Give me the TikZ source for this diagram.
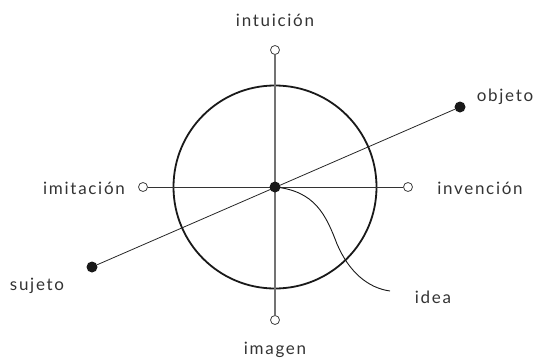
\documentclass[tikz,border=0pt]{standalone}
\usepackage{fontspec}
\setmainfont{Lato}[LetterSpace=10]
\begin{document}
\begin{tikzpicture}[x=1pt,y=-1pt,
  lbl/.style={font=\fontsize{17}{19}\selectfont, text=black!80, inner sep=0pt},
  opendot/.style={circle, draw=black!75, fill=white, line width=0.8pt, minimum size=9pt, inner sep=0pt},
  fulldot/.style={circle, fill=black!90, minimum size=11pt, inner sep=0pt},
  axisv/.style={draw=black!55, line width=1.1pt},
  axish/.style={draw=black!80, line width=0.8pt},
  diag/.style={draw=black!85, line width=0.8pt}]
\useasboundingbox (0,0) rectangle (543,362);
% circle
\node[circle, draw=black!90, line width=1.8pt, minimum size=203pt, inner sep=0pt] (ring) at (275,187) {};
% dots
\node[opendot] (top) at (275,50) {};
\node[opendot] (bot) at (275,320) {};
\node[opendot] (left) at (143,187) {};
\node[opendot] (right) at (408,187) {};
\node[fulldot] (obj) at (460,107) {};
\node[fulldot] (suj) at (92,267) {};
\coordinate (c) at (275,187);
\coordinate (ideaend) at (390,291);
% lines
\draw[axisv] (top) -- (bot);
\draw[axish] (left) -- (right);
\draw[diag] (suj) -- (obj);
\draw[black!90, line width=0.9pt] (c) .. controls (315,191) and (326,215) .. (337,244) .. controls (349,272) and (368,288) .. (ideaend);
\node[fulldot] (center) at (c) {};
% labels
\node[lbl] (lint) at (275,20) {intuición};
\node[lbl] (limg) at (275,350) {imagen};
\node[lbl] (limi) at (84,188) {imitación};
\node[lbl] (linv) at (480,188) {invención};
\node[lbl] (lobj) at (505,97) {objeto};
\node[lbl] (lsuj) at (37,286) {sujeto};
\node[lbl] (lidea) at (433,297) {idea};
\end{tikzpicture}
\end{document}
